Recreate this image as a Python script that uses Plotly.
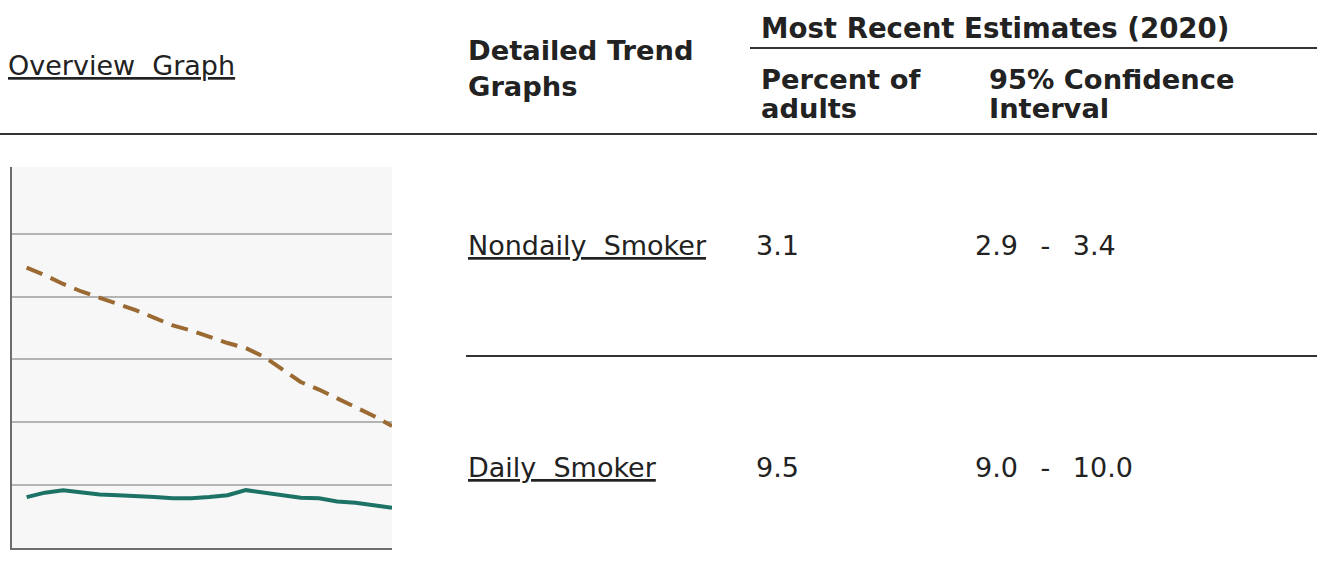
import plotly.graph_objects as go

# overview sparkline values (percent of adults)
years = list(range(2000, 2021))
daily = [22.3, 21.7, 21.0, 20.4, 19.9, 19.4, 18.9, 18.3, 17.7, 17.3, 16.8,
         16.3, 15.9, 15.2, 14.2, 13.2, 12.6, 11.9, 11.2, 10.5, 9.7]
nondaily = [4.05, 4.4, 4.6, 4.4, 4.25, 4.2, 4.15, 4.05, 3.95, 3.95, 4.05,
            4.2, 4.6, 4.4, 4.2, 4.0, 3.95, 3.7, 3.6, 3.4, 3.2]

# table contents
row_labels = ["Nondaily Smoker", "Daily Smoker"]
row_percent = ["3.1", "9.5"]
row_ci = ["2.9 - 3.4", "9.0 - 10.0"]
y_ticks = [0, 5, 10, 15, 20, 25]

W, H = 1317, 579
TEXT = "#222222"
RULE = "#333333"
FONT = "DejaVu Sans"
WIDE = "\u00a0\u00a0\u2009"  # the page pads the dash in the CI with extra space


def px(x):
    return x / W


def py(y):
    return 1 - y / H


fig = go.Figure()
fig.add_trace(go.Scatter(
    x=years, y=daily, mode="lines",
    line=dict(color="#9a6a32", width=4, dash="17px,9px"),
    hoverinfo="skip",
))
fig.add_trace(go.Scatter(
    x=years, y=nondaily, mode="lines",
    line=dict(color="#1d7266", width=4),
    hoverinfo="skip",
))


def label(x, y, text, bold=False, underline=False, size=27):
    if bold:
        text = f"<b>{text}</b>"
    if underline:
        text = f"<span style='text-decoration:underline'>{text}</span>"
    fig.add_annotation(
        x=px(x), y=py(y), xref="paper", yref="paper",
        text=text, showarrow=False, xanchor="left", yanchor="middle",
        font=dict(family=FONT, size=size, color=TEXT),
    )


# header
label(6, 66, "Overview\u00a0 Graph", underline=True)
label(466, 50, "Detailed Trend", bold=True, size=27.3)
label(466, 87, "Graphs", bold=True, size=27.3)
label(759, 28, "Most Recent Estimates (2020)", bold=True, size=27.6)
label(759, 79, "Percent of", bold=True, size=27.3)
label(759, 109, "adults", bold=True, size=27.3)
label(987, 79, "95% Confidence", bold=True, size=27.3)
label(987, 109, "Interval", bold=True, size=27.3)

# rows
row_y = [245, 467]
for lab, pct, ci, ry in zip(row_labels, row_percent, row_ci, row_y):
    label(466, ry, lab.replace(" ", "\u00a0 "), underline=True)
    label(754, ry, pct)
    label(973, ry, ci.replace(" - ", WIDE + "-" + WIDE))

# table rules
rules = [(750, 48, W, 48), (0, 134, W, 134), (466, 356, W, 356)]
for x0, y0, x1, y1 in rules:
    fig.add_shape(type="line", xref="paper", yref="paper",
                  x0=px(x0), y0=py(y0), x1=px(x1), y1=py(y1),
                  line=dict(color=RULE, width=2))

fig.update_layout(
    width=W, height=H,
    paper_bgcolor="white", plot_bgcolor="#f7f7f7",
    margin=dict(l=0, r=0, t=0, b=0),
    showlegend=False,
    xaxis=dict(
        domain=[px(12), px(392)], range=[1999.2, 2020],
        showgrid=False, zeroline=False, showticklabels=False, ticks="",
        showline=True, linecolor="#6e6e6e", linewidth=2,
        fixedrange=True,
    ),
    yaxis=dict(
        domain=[py(548), py(167)], range=[0, 30.3],
        tickvals=y_ticks, showticklabels=False, ticks="",
        showgrid=True, gridcolor="#b4b4b4", gridwidth=1.5,
        zeroline=False, showline=True, linecolor="#6e6e6e", linewidth=2,
        fixedrange=True,
    ),
)

# drop the default body margin so the figure sits flush in the window
fig.write_html("out.html", config={"displayModeBar": False},
               post_script="document.body.style.margin='0';")
